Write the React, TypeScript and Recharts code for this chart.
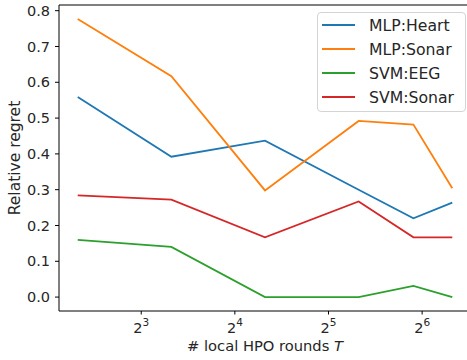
import React from "react";
import { LineChart, Line, XAxis, YAxis, ReferenceLine } from "recharts";

// number of local HPO rounds (x, log2 axis)
const rounds = [5, 10, 20, 40, 60, 80];

const mlpHeart = [0.559, 0.392, 0.437, 0.3, 0.22, 0.264];
const mlpSonar = [0.777, 0.617, 0.298, 0.492, 0.482, 0.304];
const svmEeg = [0.16, 0.14, 0.0, 0.0, 0.031, 0.0];
const svmSonar = [0.284, 0.272, 0.167, 0.267, 0.167, 0.167];

const xTicks = [8, 16, 32, 64];
const yTicks = [0, 0.1, 0.2, 0.3, 0.4, 0.5, 0.6, 0.7, 0.8];

const series = [
  { key: "mlpHeart", name: "MLP:Heart", color: "#1f77b4" },
  { key: "mlpSonar", name: "MLP:Sonar", color: "#ff7f0e" },
  { key: "svmEeg", name: "SVM:EEG", color: "#2ca02c" },
  { key: "svmSonar", name: "SVM:Sonar", color: "#d62728" },
];

const data = rounds.map((r, i) => ({
  rounds: r,
  mlpHeart: mlpHeart[i],
  mlpSonar: mlpSonar[i],
  svmEeg: svmEeg[i],
  svmSonar: svmSonar[i],
}));

// matplotlib-style 5% margins, in log2 space for x
const lo = Math.log2(rounds[0]);
const hi = Math.log2(rounds[rounds.length - 1]);
const X_MIN = Math.pow(2, lo - (hi - lo) * 0.05);
const X_MAX = Math.pow(2, hi + (hi - lo) * 0.05);
const allY = [...mlpHeart, ...mlpSonar, ...svmEeg, ...svmSonar];
const yLo = Math.min(...allY);
const yHi = Math.max(...allY);
const Y_MIN = yLo - (yHi - yLo) * 0.05;
const Y_MAX = yHi + (yHi - yLo) * 0.05;

const FONT = "'DejaVu Sans', sans-serif";
const TEXT = "#262626";

const PowerTick = ({ x, y, payload }: any) => {
  const exp = Math.round(Math.log2(payload.value));
  return (
    <text
      x={x}
      y={y}
      dy={16}
      textAnchor="middle"
      fontFamily={FONT}
      fontSize={14.5}
      fill={TEXT}
    >
      2
      <tspan dy={-7} fontSize={10.5}>
        {exp}
      </tspan>
    </text>
  );
};

const XLabel = ({ viewBox }: any) => (
  <text
    x={viewBox.x + viewBox.width / 2}
    y={351}
    textAnchor="middle"
    fontFamily={FONT}
    fontSize={14.7}
    fill={TEXT}
  >
    # local HPO rounds <tspan fontStyle="italic">T</tspan>
  </text>
);

const YLabel = ({ viewBox }: any) => {
  const cy = viewBox.y + viewBox.height / 2;
  return (
    <text
      x={20}
      y={cy}
      transform={`rotate(-90, 20, ${cy})`}
      textAnchor="middle"
      fontFamily={FONT}
      fontSize={15.5}
      fill={TEXT}
    >
      Relative regret
    </text>
  );
};

// legend drawn as a plain overlay, like matplotlib's upper-right box
const LegendBox = () => (
  <div
    style={{
      position: "absolute",
      left: 317,
      top: 12,
      width: 147,
      border: "1px solid #d4d4d4",
      borderRadius: 4,
      background: "rgba(255,255,255,0.8)",
      paddingBottom: 2,
      fontFamily: FONT,
      fontSize: 15.7,
      color: TEXT,
    }}
  >
    {series.map((s) => (
      <div
        key={s.key}
        style={{ height: 24, display: "flex", alignItems: "center" }}
      >
        <div
          style={{
            marginLeft: 4,
            width: 33,
            height: 0,
            borderTop: `2px solid ${s.color}`,
          }}
        />
        <span style={{ marginLeft: 14, whiteSpace: "nowrap" }}>{s.name}</span>
      </div>
    ))}
  </div>
);

export default function App() {
  return (
    <div
      style={{
        position: "fixed",
        left: 0,
        top: 0,
        width: 467,
        height: 360,
        overflow: "hidden",
        background: "#fff",
      }}
    >
      <LineChart
        width={475}
        height={360}
        data={data}
        margin={{ top: 5, right: 4, bottom: 0, left: 0 }}
      >
        <XAxis
          dataKey="rounds"
          type="number"
          scale="log"
          domain={[X_MIN, X_MAX]}
          ticks={xTicks}
          allowDataOverflow
          height={49}
          tickSize={3.5}
          tickMargin={2}
          tick={<PowerTick />}
          axisLine={{ stroke: "#000", strokeWidth: 1 }}
          tickLine={{ stroke: "#000", strokeWidth: 1 }}
          label={<XLabel />}
        />
        <YAxis
          type="number"
          domain={[Y_MIN, Y_MAX]}
          ticks={yTicks}
          allowDataOverflow
          width={59}
          tickSize={4}
          tickMargin={5}
          tickFormatter={(v: number) => v.toFixed(1)}
          tick={{ fontFamily: FONT, fontSize: 14.5, fill: TEXT }}
          axisLine={{ stroke: "#000", strokeWidth: 1 }}
          tickLine={{ stroke: "#000", strokeWidth: 1 }}
          label={<YLabel />}
        />
        <ReferenceLine y={Y_MAX} stroke="#000" strokeWidth={1} />
        <ReferenceLine x={X_MAX} stroke="#000" strokeWidth={1} />
        {series.map((s) => (
          <Line
            key={s.key}
            type="linear"
            dataKey={s.key}
            name={s.name}
            stroke={s.color}
            strokeWidth={1.8}
            dot={false}
            activeDot={false}
            isAnimationActive={false}
          />
        ))}
      </LineChart>
      <LegendBox />
    </div>
  );
}
